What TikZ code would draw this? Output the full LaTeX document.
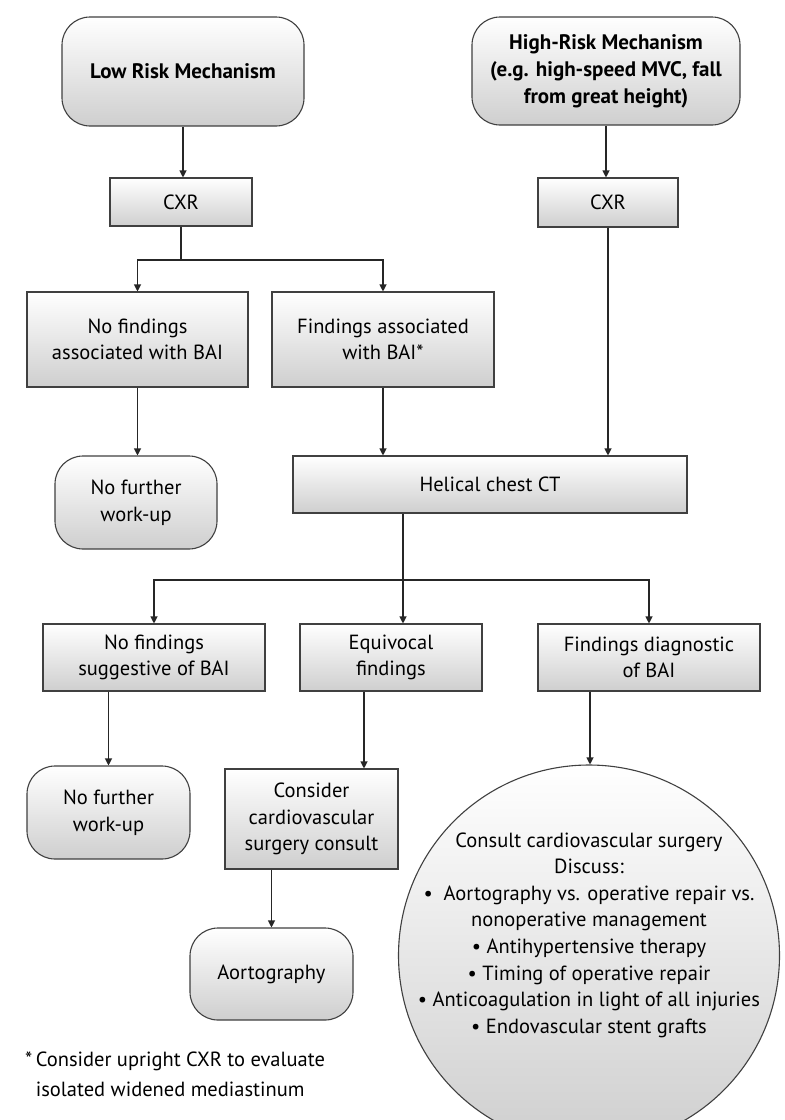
\documentclass[tikz,border=0pt]{standalone}
\usepackage{fontspec}
\setmainfont{PT Sans}
\usetikzlibrary{arrows.meta}
\begin{document}
\begin{tikzpicture}[x=1pt,y=-1pt,
  base/.style={draw=black!75, line width=1.1pt, top color=white, bottom color=black!19,
    align=center, inner sep=0pt, font=\fontsize{20.5}{26.6}\selectfont},
  rbox/.style={base, rectangle},
  rnd/.style={base, rectangle, rounded corners=28pt},
  arr/.style={draw=black!85, line width=1.1pt, -{Triangle[length=7pt,width=7pt]}},
  ln/.style={draw=black!85, line width=1.1pt}]
\clip (0,0) rectangle (785,1120);
\fill[white] (0,0) rectangle (785,1120);
% top
\node[rnd, minimum width=242pt, minimum height=109pt, font=\fontsize{21}{27}\selectfont\bfseries] (low) at (183,71.5) {Low Risk Mechanism};
\node[rnd, minimum width=268pt, minimum height=108pt, font=\fontsize{21}{27}\selectfont\bfseries] (high) at (606,71) {High-Risk Mechanism\\(e.g. high-speed MVC, fall\\from great height)};
\node[rbox, minimum width=142pt, minimum height=48pt] (cxrL) at (181,202) {CXR};
\node[rbox, minimum width=140pt, minimum height=49pt] (cxrR) at (608,202.5) {CXR};
\node[rbox, minimum width=221pt, minimum height=95pt] (nf1) at (137.5,339.5) {No findings\\associated with BAI};
\node[rbox, minimum width=222pt, minimum height=95pt] (fa1) at (383,339.5) {Findings associated\\with BAI*};
\node[rnd, minimum width=162pt, minimum height=93pt] (nfw1) at (136,502.5) {No further\\work-up};
\node[rbox, minimum width=394pt, minimum height=57pt] (hct) at (490,484.5) {Helical chest CT};
\node[rbox, minimum width=222pt, minimum height=67pt] (nfs) at (154,657.5) {No findings\\suggestive of BAI};
\node[rbox, minimum width=182pt, minimum height=67pt] (eq) at (391,657.5) {Equivocal\\findings};
\node[rbox, minimum width=222pt, minimum height=67pt] (diag) at (649,657.5) {Findings diagnostic\\of BAI};
\node[rnd, minimum width=163pt, minimum height=93pt] (nfw2) at (108.5,812.5) {No further\\work-up};
\node[rbox, minimum width=173pt, minimum height=100pt] (cons) at (311.5,819) {Consider\\cardiovascular\\surgery consult};
\node[rnd, minimum width=163pt, minimum height=92pt] (aort) at (271.5,974) {Aortography};
\node[base, circle, minimum size=381pt] (circ) at (589,955.5) {};
\node[align=center, font=\fontsize{20.5}{26.6}\selectfont, inner sep=0pt] (ctext) at (589,935) {Consult cardiovascular surgery\\Discuss:\\{\textbullet}\ \ Aortography vs. operative repair vs.\\nonoperative management\\{\textbullet} Antihypertensive therapy\\{\textbullet} Timing of operative repair\\{\textbullet} Anticoagulation in light of all injuries\\{\textbullet} Endovascular stent grafts};
\node[anchor=north west, align=left, inner sep=0pt, font=\fontsize{20.5}{30}\selectfont] (foot) at (25,1052) {*\,Consider upright CXR to evaluate\\\phantom{*\,}isolated widened mediastinum};
% connectors
\draw[arr] (low.south) -- (low.south |- cxrL.north);
\draw[arr] (high.south) -- (high.south |- cxrR.north);
\coordinate (j1) at (181,260);
\draw[ln] (cxrL.south) -- (j1);
\draw[arr] (j1) -| (nf1.north);
\draw[arr] (j1) -| (fa1.north);
\draw[arr] (nf1.south) -- (nf1.south |- nfw1.north);
\draw[arr] (fa1.south) -- (fa1.south |- hct.north);
\draw[arr] (cxrR.south) -- (cxrR.south |- hct.north);
\coordinate (j2) at (403,580);
\draw[ln] (j2 |- hct.south) -- (j2);
\draw[arr] (j2) -| (nfs.north);
\draw[arr] (j2) -- (j2 |- eq.north);
\draw[arr] (j2) -| (diag.north);
\coordinate (k1) at (108.5,0);
\draw[arr] (k1 |- nfs.south) -- (k1 |- nfw2.north);
\coordinate (k2) at (364,0);
\draw[arr] (k2 |- eq.south) -- (k2 |- cons.north);
\coordinate (k3) at (590,0);
\draw[arr] (k3 |- diag.south) -- (k3 |- circ.north);
\coordinate (k4) at (271.5,0);
\draw[arr] (k4 |- cons.south) -- (k4 |- aort.north);
\end{tikzpicture}
\end{document}
